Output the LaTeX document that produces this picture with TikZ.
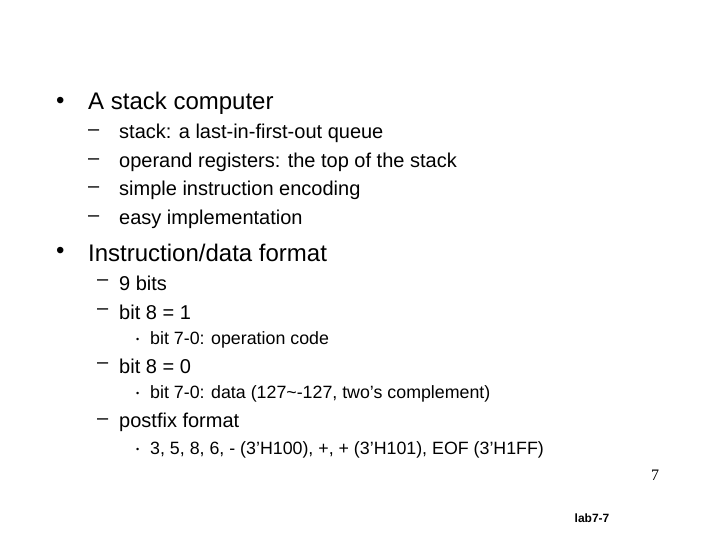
\documentclass[tikz,border=0pt]{standalone}
\usepackage{fontspec}
\setmainfont{Liberation Sans}
\newfontfamily\serif{Liberation Serif}
\begin{document}
\begin{tikzpicture}[x=1pt,y=-1pt,
  lone/.style={anchor=west,inner sep=0pt,font=\fontsize{24}{27}\selectfont},
  ltwo/.style={anchor=west,inner sep=0pt,font=\fontsize{20}{23}\selectfont},
  lthree/.style={anchor=west,inner sep=0pt,font=\fontsize{17.8}{20}\selectfont}]
\useasboundingbox (0,0) rectangle (720,540);
\node[lone] (b1) at (56,103) {•};
\node[lone] (t1) at (88,103) {A stack computer};
\node[ltwo] (d1) at (88,133) {–}; \node[ltwo] (t11) at (119,133) {stack: a last-in-first-out queue};
\node[ltwo] (d2) at (88,162) {–}; \node[ltwo] (t12) at (119,162) {operand registers: the top of the stack};
\node[ltwo] (d3) at (88,190) {–}; \node[ltwo] (t13) at (119,190) {simple instruction encoding};
\node[ltwo] (d4) at (88,219) {–}; \node[ltwo] (t14) at (119,219) {easy implementation};
\node[lone] (b2) at (56,253) {•};
\node[lone] (t2) at (88,253) {Instruction/data format};
\node[ltwo] (e1) at (97,283) {–}; \node[ltwo] (t21) at (119,283) {9 bits};
\node[ltwo] (e2) at (97,312) {–}; \node[ltwo] (t22) at (119,312) {bit 8 = 1};
\node[lthree] (f1) at (136,340) {\small•}; \node[lthree] (t31) at (150,340) {bit 7-0: operation code};
\node[ltwo] (e3) at (97,366) {–}; \node[ltwo] (t23) at (119,366) {bit 8 = 0};
\node[lthree] (f2) at (136,394) {\small•}; \node[lthree] (t32) at (150,394) {bit 7-0: data (127\textasciitilde-127, two’s complement)};
\node[ltwo] (e4) at (97,422) {–}; \node[ltwo] (t24) at (119,422) {postfix format};
\node[lthree] (f3) at (136,450) {\small•}; \node[lthree] (t33) at (150,450) {3, 5, 8, 6, - (3’H100), +, + (3’H101), EOF (3’H1FF)};
\node[anchor=center,inner sep=0pt,font=\serif\fontsize{16}{18}\selectfont] (pg) at (655,475) {7};
\node[anchor=center,inner sep=0pt,font=\bfseries\fontsize{12}{14}\selectfont] (lab) at (592,518) {lab7-7};
\end{tikzpicture}
\end{document}
